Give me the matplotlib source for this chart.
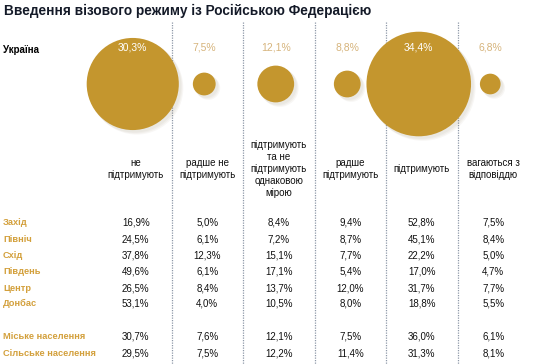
import matplotlib.pyplot as plt
from matplotlib.patches import Circle

plt.rcParams['font.family'] = ['Liberation Sans', 'DejaVu Sans']

title = "Введення візового режиму із Російською Федерацією"
columns = ["не\nпідтримують", "радше не\nпідтримують",
           "підтримують\nта не\nпідтримують\nоднаковою\nмірою",
           "радше\nпідтримують", "підтримують", "вагаються з\nвідповіддю"]
ukraine = [30.3, 7.5, 12.1, 8.8, 34.4, 6.8]

groups = ["Захід", "Північ", "Схід", "Південь", "Центр", "Донбас",
          "Міське населення", "Сільське населення"]
values = [
    [16.9, 5.0, 8.4, 9.4, 52.8, 7.5],
    [24.5, 6.1, 7.2, 8.7, 45.1, 8.4],
    [37.8, 12.3, 15.1, 7.7, 22.2, 5.0],
    [49.6, 6.1, 17.1, 5.4, 17.0, 4.7],
    [26.5, 8.4, 13.7, 12.0, 31.7, 7.7],
    [53.1, 4.0, 10.5, 8.0, 18.8, 5.5],
    [30.7, 7.6, 12.1, 7.5, 36.0, 6.1],
    [29.5, 7.5, 12.2, 11.4, 31.3, 8.1],
]

gold = "#c4962e"
light = "#d6b47c"
row_gold = "#d3a03c"

def fmt(v):
    return f"{v:.1f}%".replace(".", ",")

fig = plt.figure(figsize=(5.34, 3.64), dpi=100)
ax = fig.add_axes([0, 0, 1, 1])
ax.set_xlim(0, 534)
ax.set_ylim(364, 0)
ax.axis('off')

col_w = 71.5
x0 = 100
centers = [x0 + col_w * (i + 0.5) for i in range(len(columns))]

# dotted separators
for i in range(1, len(columns)):
    x = x0 + col_w * i
    ax.plot([x, x], [22, 364], color="#8e98a8", lw=0.9, ls=(0, (1, 1)), zorder=1)

ax.text(4, 11, title, fontsize=9.8, fontweight='bold', color="#141a28", va='center', ha='left')
ax.text(3, 50, "Україна", fontsize=7, fontweight='bold', color="black", va='center')

cy = 84
scale = 1.52
for i, v in enumerate(ukraine):
    cx = centers[i] - 3
    r = v * scale
    # soft shadow
    for k in range(3):
        ax.add_patch(Circle((cx + 2 + k, cy + 2 + k), r + 0.5, color="#8a7a5a", alpha=0.06, lw=0, zorder=2))
    ax.add_patch(Circle((cx, cy), r, color=gold, lw=0, zorder=3))
    tc = "white" if r > 38 else light
    ax.text(cx, 47, fmt(v), fontsize=7.5, color=tc, ha='center', va='center', zorder=4)

for i, lab in enumerate(columns):
    ax.text(centers[i], 169, lab, fontsize=7, ha='center', va='center',
            color="#111111", linespacing=1.25, zorder=4)

row_y = [222.7, 239.3, 255.3, 271.3, 288.3, 303.3, 336.7, 353.7]
for j, g in enumerate(groups):
    ax.text(3, row_y[j], g, fontsize=6.7, fontweight='bold', color=row_gold, va='center')
    for i, v in enumerate(values[j]):
        ax.text(centers[i], row_y[j], fmt(v), fontsize=7, color="#111111",
                ha='center', va='center')

fig.savefig("out.png", dpi=100)
